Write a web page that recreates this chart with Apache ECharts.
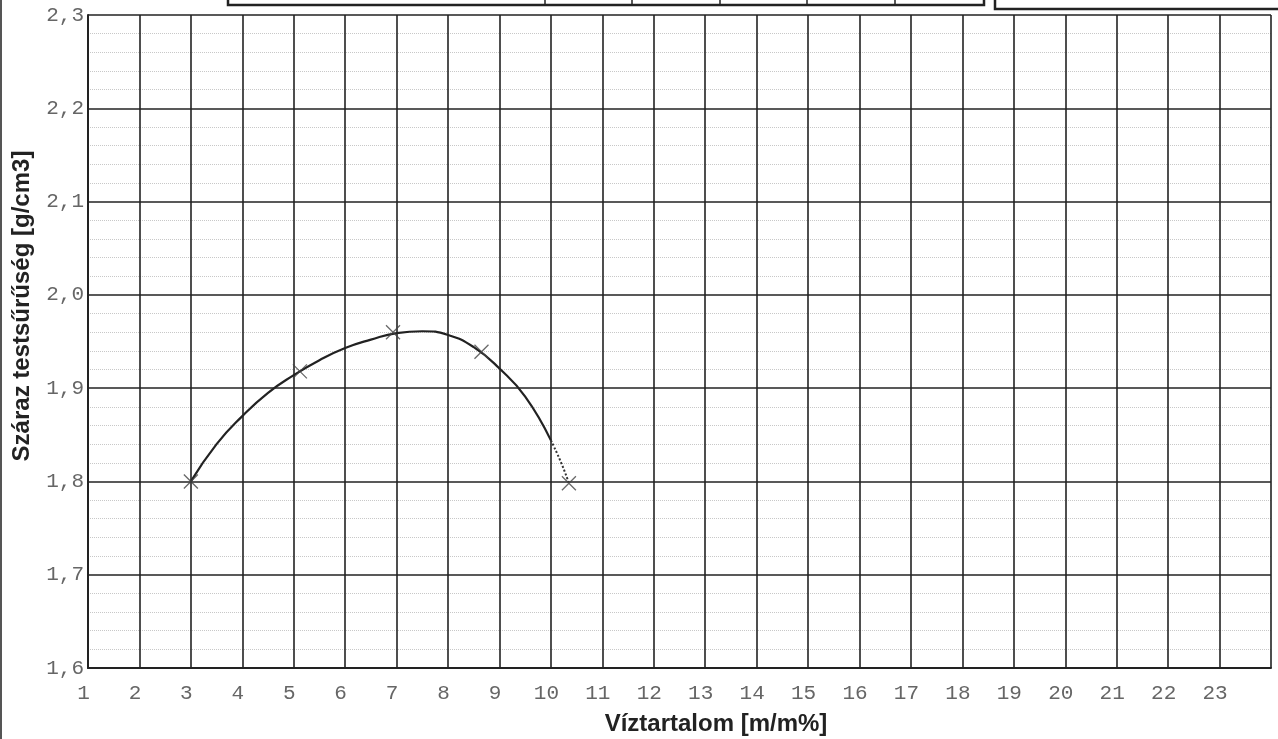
<!DOCTYPE html>
<html>
<head>
<meta charset="utf-8">
<script src="https://cdn.jsdelivr.net/npm/echarts@6/dist/echarts.min.js"></script>
<style>html,body{margin:0;padding:0;background:#fff}#c{width:1278px;height:739px}</style>
</head>
<body>
<div id="c"></div>
<script>
// Measured points (water content %, dry density g/cm3)
const pointX = [3.0, 5.12, 6.93, 8.65, 10.35];
const pointY = [1.800, 1.918, 1.960, 1.939, 1.798];
// Fitted curve (solid part)
const curveX = [3.0, 3.5, 4.0, 4.5, 5.0, 5.5, 6.0, 6.5, 7.0, 7.5, 8.0, 8.5, 9.0, 9.5, 10.0];
const curveY = [1.800, 1.840, 1.870, 1.895, 1.914, 1.930, 1.943, 1.952, 1.959, 1.961, 1.957, 1.944, 1.921, 1.891, 1.844];
// Dotted (extrapolated) tail
const tailX = [10.0, 10.2, 10.35];
const tailY = [1.844, 1.820, 1.798];
const xTitle = 'Víztartalom [m/m%]';
const yTitle = 'Száraz testsűrűség [g/cm3]';

const zip = (a, b) => a.map((v, i) => [v, b[i]]);
const chart = echarts.init(document.getElementById('c'), null, {renderer: 'canvas'});
const tickFont = {fontFamily: 'Liberation Mono', fontSize: 21, color: '#666'};
const gridLine = {show: true, lineStyle: {color: '#222', width: 1.6, type: 'solid'}};
const titleStyle = {fontFamily: 'Liberation Sans', fontWeight: 'bold', fontSize: 24, fill: '#222'};

chart.setOption({
  animation: false,
  backgroundColor: '#fff',
  grid: {left: 88, right: 7, top: 15, bottom: 71, show: false},
  xAxis: {
    type: 'value', min: 1, max: 24, interval: 1,
    axisLine: {show: true, lineStyle: {color: '#222', width: 2}},
    axisTick: {show: false},
    axisLabel: Object.assign({margin: 15, padding: [0, 9, 0, 0], formatter: v => (v === 24 ? '' : String(v))}, tickFont),
    splitLine: gridLine
  },
  yAxis: {
    type: 'value', min: 1.6, max: 2.3, interval: 0.1,
    axisLine: {show: true, lineStyle: {color: '#222', width: 2}},
    axisTick: {show: false},
    axisLabel: Object.assign({margin: 4, formatter: v => v.toFixed(1).replace('.', ',')}, tickFont),
    splitLine: gridLine,
    minorTick: {show: false, splitNumber: 5},
    minorSplitLine: {show: true, lineStyle: {color: '#c8c8c8', width: 1, type: 'dotted'}}
  },
  series: [
    {type: 'line', data: zip(curveX, curveY), smooth: 0.5, showSymbol: false,
     lineStyle: {color: '#222', width: 2.2}, z: 3},
    {type: 'line', data: zip(tailX, tailY), smooth: 0.5, showSymbol: false,
     lineStyle: {color: '#333', width: 2, type: 'dotted'}, z: 3},
    {type: 'scatter', data: zip(pointX, pointY),
     symbol: 'path://M0,0L10,10M10,0L0,10', symbolSize: 14,
     itemStyle: {color: 'rgba(0,0,0,0)', borderColor: '#444', borderWidth: 1.3}, z: 4}
  ],
  graphic: [
    {type: 'text', x: 716, y: 724, style: Object.assign({text: xTitle, align: 'center', verticalAlign: 'middle'}, titleStyle)},
    {type: 'text', x: 22, y: 306, rotation: Math.PI / 2, style: Object.assign({text: yTitle, align: 'center', verticalAlign: 'middle'}, titleStyle)},
    {type: 'line', shape: {x1: 1, y1: 0, x2: 1, y2: 739}, style: {stroke: '#555', lineWidth: 2}},
    {type: 'polyline', shape: {points: [[228, 0], [228, 5], [984, 5], [984, 0]]}, style: {stroke: '#222', lineWidth: 2.5, fill: null}},
    {type: 'line', shape: {x1: 545, y1: 0, x2: 545, y2: 5}, style: {stroke: '#222', lineWidth: 1.5}},
    {type: 'line', shape: {x1: 632, y1: 0, x2: 632, y2: 5}, style: {stroke: '#222', lineWidth: 1.5}},
    {type: 'line', shape: {x1: 720, y1: 0, x2: 720, y2: 5}, style: {stroke: '#222', lineWidth: 1.5}},
    {type: 'line', shape: {x1: 807, y1: 0, x2: 807, y2: 5}, style: {stroke: '#222', lineWidth: 1.5}},
    {type: 'line', shape: {x1: 895, y1: 0, x2: 895, y2: 5}, style: {stroke: '#222', lineWidth: 1.5}},
    {type: 'polyline', shape: {points: [[995, 0], [995, 9], [1278, 9]]}, style: {stroke: '#222', lineWidth: 2.5, fill: null}}
  ]
});
</script>
</body>
</html>
